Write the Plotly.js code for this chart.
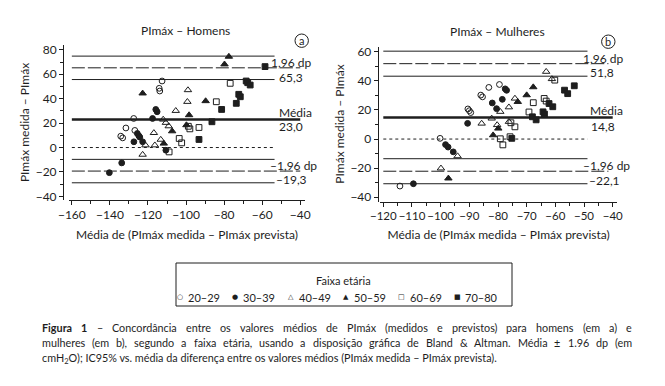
<!DOCTYPE html>
<html><head><meta charset="utf-8">
<script src="https://cdn.plot.ly/plotly-3.0.1.min.js"></script>
<style>html,body{margin:0;padding:0;background:#fff}#chart{width:665px;height:386px}</style>
</head><body><div id="chart"></div>
<script>
// ---------- data ----------
const ageGroups = ['20–29','30–39','40–49','50–59','60–69','70–80'];

// Men (panel a)
const men2029x = [-112.6,-114.1,-113.8,-127.5,-131.6,-134.3,-133.3,-126.9];
const men2029y = [54.5,48.5,46.3,23.8,16.0,9.3,7.9,14.0];
const men3039x = [-115.9,-115.2,-117.6,-125.6,-124.8,-124.3,-127.4,-122.8,-110.6,-133.8,-140.3];
const men3039y = [31.2,29.3,23.8,11.5,9.6,8.5,4.7,4.7,-2.2,-12.6,-20.6];
const men4049x = [-99.0,-99.3,-105.4,-112.0,-110.6,-109.1,-116.9,-113.3,-121.3,-116.4,-122.8];
const men4049y = [47.1,37.5,30.1,23.0,20.3,17.5,12.0,6.5,1.9,1.9,-5.8];
const men5059x = [-122.8,-98.4,-89.7,-107.3,-99.8,-111.7,-77.5,-79.8];
const men5059y = [44.4,26.6,38.1,13.4,18.4,3.3,74.5,68.2];
const men6069x = [-84.1,-98.8,-98.0,-93.2,-103.6,-102.3,-108.9,-76.8];
const men6069y = [37.5,17.4,15.3,16.4,7.4,3.8,-3.6,52.6];
const men7080x = [-81.3,-86.4,-93.2,-58.5,-68.4,-67.6,-66.3,-72.3,-71.5,-73.6];
const men7080y = [31.2,21.1,6.6,66.3,54.5,53.1,51.2,43.6,41.6,36.2];

// Women (panel b)
const women2029x = [-100.2,-114.2,-83.2,-79.5,-86.0,-85.4,-90.5,-90.0,-89.5];
const women2029y = [0.5,-32.3,35.5,37.5,30.2,29.0,20.7,19.5,18.2];
const women3039x = [-98.3,-97.4,-95.6,-109.5,-77.5,-77.0,-82.0,-78.5,-80.5,-90.6];
const women3039y = [-3.8,-5.5,-8.8,-30.7,34.5,33.5,24.8,27.3,20.9,10.8];
const women4049x = [-94.1,-99.9,-82.2,-85.7,-80.3,-79.2,-76.2,-74.1,-63.2,-61.2,-76.2];
const women4049y = [-11.7,-20.1,14.2,10.7,9.7,18.8,21.9,27.9,46.3,41.3,11.9];
const women5059x = [-97.3,-79.9,-81.7,-73.1,-70.0,-67.7];
const women5059y = [-27.0,7.3,2.7,25.6,30.2,35.7];
const women6069x = [-79.2,-78.3,-75.8,-75.5,-74.1,-69.2,-67.7,-63.9,-63.2,-60.2];
const women6069y = [0.2,-4.0,1.6,11.2,8.4,18.6,25.0,27.9,26.1,40.5];
const women7080x = [-75.2,-68.0,-66.7,-64.3,-63.8,-62.2,-60.9,-56.8,-55.7,-53.4];
const women7080y = [0.5,15.3,13.2,18.7,17.2,24.4,22.2,33.6,31.2,36.6];

// Bland & Altman reference levels
const menMean = 23.0, menUpper = 65.3, menLower = -19.3;
const menUpperCI = [74.9, 55.7], menLowerCI = [-9.7, -28.9];
const womenMean = 14.8, womenUpper = 51.8, womenLower = -22.1;
const womenUpperCI = [60.4, 43.2], womenLowerCI = [-13.5, -30.7];

// Tick labels
const menXTicks = [-160,-140,-120,-100,-80,-60,-40];
const menYTicks = [-40,-20,0,20,40,60,80];
const womenXTicks = [-120,-110,-100,-90,-80,-70,-60,-50,-40];
const womenYTicks = [-40,-20,0,20,40,60];

// Caption
const captionLine1 = ['<b>Figura</b>','<b>1</b>','–','Concordância','entre','os','valores','médios','de','PImáx','(medidos','e','previstos)','para','homens','(em','a)','e'];
const captionLine2 = ['mulheres','(em','b),','segundo','a','faixa','etária,','usando','a','disposição','gráfica','de','Bland','&amp;','Altman.','Média','±','1.96','dp','(em'];
const captionLine3 = 'cmH<sub>2</sub>O); IC95% vs. média da diferença entre os valores médios (PImáx medida – PImáx prevista).';

// ---------- layout helpers ----------
const W = 665, H = 386;
const P = px => px / W;
const Q = py => 1 - py / H;
const INK = '#1e1e1e';
const FONT = 'Lato, "Open Sans", sans-serif';
const f = (size, extra) => Object.assign({family: FONT, size: size, color: INK}, extra || {});
const tickTxt = v => v < 0 ? '−' + Math.abs(v) : String(v);

const symbolsOf = ['circle-open','circle','triangle-up-open','triangle-up','square-open','square'];
const menX = [men2029x,men3039x,men4049x,men5059x,men6069x,men7080x];
const menY = [men2029y,men3039y,men4049y,men5059y,men6069y,men7080y];
const womenX = [women2029x,women3039x,women4049x,women5059x,women6069x,women7080x];
const womenY = [women2029y,women3039y,women4049y,women5059y,women6069y,women7080y];

const traces = [];
ageGroups.forEach((g, i) => {
  const mk = {symbol: symbolsOf[i], size: i === 2 || i === 3 ? 6.5 : 5.8, color: INK, line: {color: INK, width: 1}};
  traces.push({type: 'scatter', mode: 'markers', name: g, legendgroup: g, x: menX[i], y: menY[i], xaxis: 'x', yaxis: 'y', marker: mk, showlegend: false, cliponaxis: false});
  traces.push({type: 'scatter', mode: 'markers', name: g, legendgroup: g, x: womenX[i], y: womenY[i], xaxis: 'x2', yaxis: 'y2', marker: mk, showlegend: false, cliponaxis: false});
});

function hline(xr, yr, x0, x1, y, width, dash) {
  return {type: 'line', xref: xr, yref: yr, x0: x0, x1: x1, y0: y, y1: y, layer: 'below',
          line: {color: INK, width: width, dash: dash || 'solid'}};
}
const DASH = '13px,3px';
const shapes = [
  hline('x','y',-160,-53.5,menUpperCI[0],1),
  hline('x','y',-160,-40,menUpper,1,DASH),
  hline('x','y',-160,-53.5,menUpperCI[1],1),
  hline('x','y',-160,-40,menMean,2.6),
  hline('x','y',-160,-53.5,0,1,'dot'),
  hline('x','y',-160,-53.5,menLowerCI[0],1),
  hline('x','y',-160,-40,menLower,1,DASH),
  hline('x','y',-160,-53.5,menLowerCI[1],1),
  hline('x2','y2',-120,-48.8,womenUpperCI[0],1),
  hline('x2','y2',-120,-41.5,womenUpper,1,DASH),
  hline('x2','y2',-120,-48.8,womenUpperCI[1],1),
  hline('x2','y2',-120,-40,womenMean,2.6),
  hline('x2','y2',-120,-48.8,0,1,'dot'),
  hline('x2','y2',-120,-48.8,womenLowerCI[0],1),
  hline('x2','y2',-120,-41.5,womenLower,1,DASH),
  hline('x2','y2',-120,-48.8,womenLowerCI[1],1),
  {type:'circle', xref:'paper', yref:'paper', x0:P(295), x1:P(308.4), y0:Q(47.4), y1:Q(34), line:{color:INK,width:1}},
  {type:'circle', xref:'paper', yref:'paper', x0:P(601.6), x1:P(615), y0:Q(48.4), y1:Q(35), line:{color:INK,width:1}},
  {type:'rect', xref:'paper', yref:'paper', x0:P(176), x1:P(512), y0:Q(306), y1:Q(263), line:{color:INK,width:1}}
];

const fmt = v => v.toFixed(1).replace('.', ',');
function lab(text, px, py, size, anchor, font) {
  return {text: text, xref:'paper', yref:'paper', x: P(px), y: Q(py), xanchor: anchor || 'left', yanchor:'middle',
          showarrow:false, font: font || f(size || 12)};
}
const annotations = [
  lab('PImáx – Homens', 185, 31, 12, 'center'),
  lab('PImáx – Mulheres', 497, 32, 12, 'center'),
  lab('a', 301.7, 40.2, 11, 'center'),
  lab('b', 608.3, 41.2, 11, 'center'),
  lab('1,96 dp', 269, 62),
  lab(fmt(menUpper), 277, 77),
  lab('Média', 277, 112.5),
  lab(fmt(menMean), 277, 126.5),
  lab('–1,96 dp', 268, 165),
  lab('–' + fmt(Math.abs(menLower)), 274, 179),
  lab('1,96 dp', 581, 59),
  lab(fmt(womenUpper), 588, 72),
  lab('Média', 588, 110),
  lab(fmt(womenMean), 589, 126.5),
  lab('–1,96 dp', 581, 165.5),
  lab('–' + fmt(Math.abs(womenLower)), 587, 180),
  lab('Faixa etária', 343.5, 280, 11, 'center')
];
const legendSym = ['○','●','△','▲','□','■'];
ageGroups.forEach((g, i) => {
  const sx = 180 + i * 55.4;
  annotations.push(lab(legendSym[i], sx, 297, 7, 'center', {family:'DejaVu Sans', size:7, color:INK}));
  annotations.push(lab(g, sx + 6, 297, 11));
});

// justified caption lines (word positions measured on a canvas)
const CAP = 10.8;
const ctx = document.createElement('canvas').getContext('2d');
function measure(word) {
  const bold = word.indexOf('<b>') >= 0;
  const plain = word.replace(/<[^>]+>/g, '').replace('&amp;', '&');
  ctx.font = (bold ? 'bold ' : '') + CAP + 'px Lato';
  return ctx.measureText(plain).width;
}
function justify(words, x0, x1, py) {
  const widths = words.map(measure);
  const total = widths.reduce((a, b) => a + b, 0);
  const gap = (x1 - x0 - total) / (words.length - 1);
  let x = x0;
  words.forEach((w, i) => {
    annotations.push(lab(w, x, py, CAP));
    x += widths[i] + gap;
  });
}
justify(captionLine1, 40, 630, 327);
justify(captionLine2, 40, 630, 342);
annotations.push(lab(captionLine3, 40, 358, CAP));

const baseAxis = {
  showline: true, linecolor: INK, linewidth: 1, ticks: 'outside', ticklen: 4, tickwidth: 1, tickcolor: INK,
  showgrid: false, zeroline: false, tickfont: f(12), fixedrange: true, tickmode: 'array', tickangle: 0
};
const layout = {
  width: W, height: H, margin: {l:0, r:0, t:0, b:0}, paper_bgcolor: '#fff', plot_bgcolor: 'rgba(0,0,0,0)',
  showlegend: false, shapes: shapes, annotations: annotations,
  xaxis: Object.assign({}, baseAxis, {domain:[P(69),P(305)], range:[-161.5,-37.5], anchor:'y',
    tickvals: menXTicks, ticktext: menXTicks.map(tickTxt),
    minor:{dtick:10, tick0:-160, ticks:'outside', ticklen:3, tickcolor:INK, showgrid:false},
    title:{text:'Média de (PImáx medida – PImáx prevista)', font:f(12), standoff:9}}),
  yaxis: Object.assign({}, baseAxis, {domain:[Q(200),Q(45)], range:[-43,84], anchor:'free', position:P(63),
    tickvals: menYTicks, ticktext: menYTicks.map(tickTxt),
    minor:{dtick:10, tick0:0, ticks:'outside', ticklen:3, tickcolor:INK, showgrid:false},
    title:{text:'PImáx medida – PImáx', font:f(12), standoff:2}}),
  xaxis2: Object.assign({}, baseAxis, {domain:[P(380),P(617.3)], range:[-121.15,-38.4], anchor:'y2',
    tickvals: womenXTicks, ticktext: womenXTicks.map(tickTxt), tickfont: f(11.5),
    minor:{dtick:5, tick0:-120, ticks:'outside', ticklen:3, tickcolor:INK, showgrid:false},
    title:{text:'Média de (PImáx medida – PImáx prevista)', font:f(12), standoff:9}}),
  yaxis2: Object.assign({}, baseAxis, {domain:[Q(201.5),Q(46.5)], range:[-42.9,63.6], anchor:'free', position:P(377.7),
    tickvals: womenYTicks, ticktext: womenYTicks.map(tickTxt),
    minor:{dtick:10, tick0:0, ticks:'outside', ticklen:3, tickcolor:INK, showgrid:false},
    title:{text:'PImáx medida – PImáx', font:f(12), standoff:2}})
};

Plotly.newPlot('chart', traces, layout, {displayModeBar:false, staticPlot:true});
</script>
</body></html>
